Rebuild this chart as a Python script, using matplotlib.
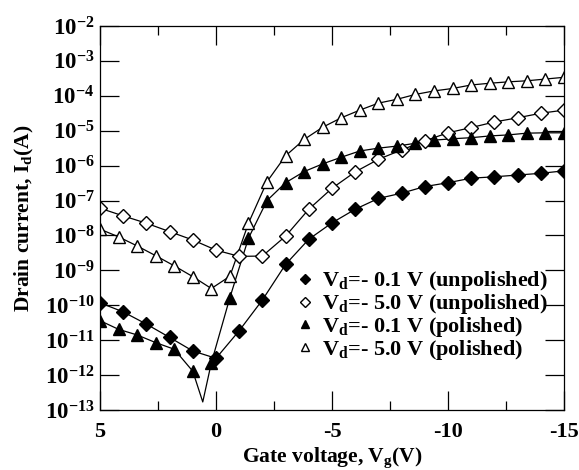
import numpy as np
import matplotlib
matplotlib.use("Agg")
import matplotlib.pyplot as plt
from matplotlib.ticker import FixedLocator, NullLocator

plt.rcParams['font.family'] = 'Liberation Serif'
plt.rcParams['font.weight'] = 'bold'
plt.rcParams['mathtext.fontset'] = 'custom'
plt.rcParams['mathtext.rm'] = 'Liberation Serif:bold'
plt.rcParams['mathtext.bf'] = 'Liberation Serif:bold'
plt.rcParams['mathtext.it'] = 'Liberation Serif:bold'

# gate voltage grids (diamonds every 1 V, triangles every 0.8 V)
vg_diamond = [5, 4, 3, 2, 1, 0, -1, -2, -3, -4, -5, -6, -7, -8, -9, -10,
              -11, -12, -13, -14, -15]
vg_triangle = [5, 4.2, 3.4, 2.6, 1.8, 1.0, 0.2, -0.6, -1.4, -2.2, -3.0, -3.8,
               -4.6, -5.4, -6.2, -7.0, -7.8, -8.6, -9.4, -10.2, -11.0, -11.8,
               -12.6, -13.4, -14.2, -15]

# log10(Id)
log_unpol_01 = [-9.93, -10.19, -10.54, -10.92, -11.31, -11.52, -10.73, -9.85,
                -8.83, -8.11, -7.64, -7.25, -6.94, -6.79, -6.60, -6.49, -6.36,
                -6.32, -6.27, -6.22, -6.15]
log_unpol_50 = [-7.22, -7.44, -7.65, -7.89, -8.13, -8.42, -8.60, -8.59, -8.02,
                -7.25, -6.65, -6.18, -5.82, -5.55, -5.29, -5.06, -4.91, -4.75,
                -4.63, -4.50, -4.41]
log_pol_01 = [-10.44, -10.69, -10.85, -11.07, -11.26, -11.89, -11.65, -9.78,
              -8.08, -7.00, -6.49, -6.17, -5.95, -5.76, -5.58, -5.50, -5.44,
              -5.36, -5.27, -5.23, -5.20, -5.15, -5.12, -5.07, -5.06, -5.06]
log_pol_50 = [-7.82, -8.04, -8.30, -8.58, -8.87, -9.18, -9.52, -9.17, -7.65,
              -6.46, -5.72, -5.25, -4.90, -4.63, -4.41, -4.21, -4.10, -3.96,
              -3.86, -3.79, -3.69, -3.64, -3.60, -3.57, -3.52, -3.47]
# sign-change dip of the polished 0.1 V curve (line only, no marker)
dip_vg = 0.57
dip_log = -12.77

labels = [r"$\mathregular{V_d}$=- 0.1 V (unpolished)",
          r"$\mathregular{V_d}$=- 5.0 V (unpolished)",
          r"$\mathregular{V_d}$=- 0.1 V (polished)",
          r"$\mathregular{V_d}$=- 5.0 V (polished)"]

fig = plt.figure(figsize=(5.79, 4.70), dpi=100)
ax = fig.add_axes([0.1727, 0.1277, 0.8013, 0.8170])

vd = np.array(vg_diamond)
vt = np.array(vg_triangle)

# lines
ax.plot(vd, 10.0 ** np.array(log_unpol_01), color='k', lw=0.9)
ax.plot(vd, 10.0 ** np.array(log_unpol_50), color='k', lw=0.9)
vt_line = np.insert(vt, 6, dip_vg)
lp_line = np.insert(np.array(log_pol_01), 6, dip_log)
ax.plot(vt_line, 10.0 ** lp_line, color='k', lw=0.9)
ax.plot(vt, 10.0 ** np.array(log_pol_50), color='k', lw=0.9)

# markers
ax.plot(vd, 10.0 ** np.array(log_unpol_01), 'D', ms=7, mfc='k', mec='k',
        ls='none', label=labels[0])
ax.plot(vd, 10.0 ** np.array(log_unpol_50), 'D', ms=7, mfc='white', mec='k',
        mew=1.0, ls='none', label=labels[1])
ax.plot(vt, 10.0 ** np.array(log_pol_01), '^', ms=8, mfc='k', mec='k',
        ls='none', label=labels[2])
ax.plot(vt, 10.0 ** np.array(log_pol_50), '^', ms=8, mfc='white', mec='k',
        mew=1.0, ls='none', label=labels[3])

ax.set_yscale('log')
ax.set_ylim(1e-13, 1e-2)
ax.set_xlim(5, -15)

decades = list(range(-13, -1))
ax.yaxis.set_major_locator(FixedLocator([10.0 ** d for d in decades]))
ax.yaxis.set_minor_locator(NullLocator())
ax.set_yticklabels([r"$\mathregular{10^{%d}}$" % d for d in decades])
ax.set_xticks([5, 0, -5, -10, -15])
ax.set_xticklabels(['5', '0', '-5', '-10', '-15'])
ax.set_xticks([2.5, -2.5, -7.5, -12.5], minor=True)

ax.tick_params(axis='both', which='major', direction='in', length=14,
               width=0.9, top=True, right=True, labelsize=16.5)
ax.tick_params(axis='y', which='major', pad=4)
ax.tick_params(axis='x', which='major', pad=9, labelsize=16)
ax.tick_params(axis='x', which='minor', direction='in', length=6.5,
               width=0.9, top=True, bottom=True)
for s in ax.spines.values():
    s.set_linewidth(0.9)

ax.set_xlabel(r"Gate voltage, $\mathregular{V_g}$(V)", fontsize=15.5,
              fontweight='bold', va='baseline')
ax.xaxis.set_label_coords(0.5, -0.135)
ax.set_ylabel(r"Drain current, $\mathregular{I_d}$(A)", fontsize=15.5,
              fontweight='bold', labelpad=6)

leg = ax.legend(loc='lower right', bbox_to_anchor=(0.995, 0.09), frameon=False,
                fontsize=16, markerscale=0.7, handlelength=0.8,
                handletextpad=0.4, labelspacing=-0.05, borderaxespad=0.2)
for t in leg.get_texts():
    t.set_fontweight('bold')

fig.savefig('out.png', dpi=100)
